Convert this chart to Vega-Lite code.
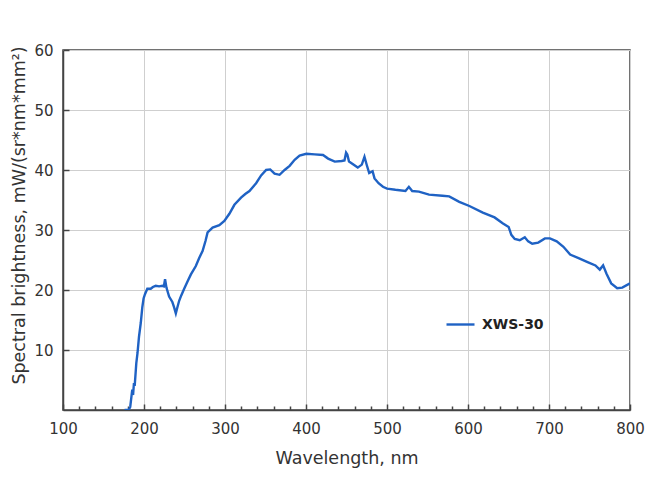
{
  "$schema": "https://vega.github.io/schema/vega-lite/v6.json",
  "autosize": "none",
  "padding": {"left": 63, "top": 50, "right": 20, "bottom": 81},
  "width": 567,
  "height": 360,
  "background": "white",
  "data": {
    "values": [
      {"wl": 176, "sb": 0}, {"wl": 181, "sb": 0}, {"wl": 183, "sb": 0.5},
      {"wl": 185.5, "sb": 3.4}, {"wl": 186.5, "sb": 2.5}, {"wl": 187.6, "sb": 4.5},
      {"wl": 188.5, "sb": 4}, {"wl": 190.5, "sb": 7.8}, {"wl": 192, "sb": 9.5},
      {"wl": 193.8, "sb": 12.2}, {"wl": 196, "sb": 14.5}, {"wl": 197.9, "sb": 17.1},
      {"wl": 199.5, "sb": 18.6}, {"wl": 201.2, "sb": 19.3}, {"wl": 204.1, "sb": 20.2},
      {"wl": 208.3, "sb": 20.2}, {"wl": 211, "sb": 20.5}, {"wl": 214.5, "sb": 20.7},
      {"wl": 218.6, "sb": 20.6}, {"wl": 222.7, "sb": 20.7}, {"wl": 224.5, "sb": 20.6},
      {"wl": 226, "sb": 21.8}, {"wl": 227.7, "sb": 20.4}, {"wl": 231, "sb": 18.9},
      {"wl": 235, "sb": 18}, {"wl": 237, "sb": 17.2}, {"wl": 239.3, "sb": 16.1},
      {"wl": 241, "sb": 17}, {"wl": 243.4, "sb": 18.2}, {"wl": 246, "sb": 19.1},
      {"wl": 249.6, "sb": 20.2}, {"wl": 254, "sb": 21.5}, {"wl": 257.9, "sb": 22.6},
      {"wl": 264, "sb": 24}, {"wl": 268, "sb": 25.3}, {"wl": 272.3, "sb": 26.5},
      {"wl": 276, "sb": 28.2}, {"wl": 278.5, "sb": 29.6}, {"wl": 284.7, "sb": 30.4},
      {"wl": 293, "sb": 30.8}, {"wl": 299.2, "sb": 31.5}, {"wl": 305.4, "sb": 32.7},
      {"wl": 311.6, "sb": 34.2}, {"wl": 319.8, "sb": 35.4}, {"wl": 325, "sb": 36},
      {"wl": 330.2, "sb": 36.5}, {"wl": 338.4, "sb": 37.8}, {"wl": 344.6, "sb": 39.1},
      {"wl": 350.8, "sb": 40}, {"wl": 355.8, "sb": 40.1}, {"wl": 361.2, "sb": 39.4},
      {"wl": 367.4, "sb": 39.2}, {"wl": 373.6, "sb": 40}, {"wl": 379.8, "sb": 40.7},
      {"wl": 386, "sb": 41.7}, {"wl": 392.1, "sb": 42.4}, {"wl": 400.4, "sb": 42.7},
      {"wl": 410.7, "sb": 42.6}, {"wl": 421, "sb": 42.5}, {"wl": 427.3, "sb": 41.9},
      {"wl": 435.5, "sb": 41.4}, {"wl": 444, "sb": 41.5}, {"wl": 447.5, "sb": 41.6},
      {"wl": 449.5, "sb": 42.9}, {"wl": 451, "sb": 42.6}, {"wl": 453.1, "sb": 41.4},
      {"wl": 458.5, "sb": 40.9}, {"wl": 463.9, "sb": 40.4}, {"wl": 468.9, "sb": 40.9},
      {"wl": 472.2, "sb": 42.2}, {"wl": 475.1, "sb": 40.8}, {"wl": 478, "sb": 39.5},
      {"wl": 482.2, "sb": 39.8}, {"wl": 484.6, "sb": 38.6}, {"wl": 489.6, "sb": 37.8},
      {"wl": 495, "sb": 37.2}, {"wl": 500, "sb": 36.9}, {"wl": 510.4, "sb": 36.7},
      {"wl": 522.8, "sb": 36.5}, {"wl": 527, "sb": 37.2}, {"wl": 531.1, "sb": 36.5},
      {"wl": 539.4, "sb": 36.4}, {"wl": 551.9, "sb": 35.9}, {"wl": 568.5, "sb": 35.7},
      {"wl": 576.8, "sb": 35.6}, {"wl": 589.2, "sb": 34.7}, {"wl": 601.7, "sb": 34},
      {"wl": 618.3, "sb": 32.9}, {"wl": 632.8, "sb": 32.1}, {"wl": 643.2, "sb": 31.1},
      {"wl": 650.2, "sb": 30.5}, {"wl": 653.5, "sb": 29.2}, {"wl": 657.7, "sb": 28.5},
      {"wl": 663.9, "sb": 28.3}, {"wl": 670.1, "sb": 28.8}, {"wl": 674.3, "sb": 28.1},
      {"wl": 679.3, "sb": 27.7}, {"wl": 686.7, "sb": 27.9}, {"wl": 695, "sb": 28.6},
      {"wl": 701.2, "sb": 28.6}, {"wl": 709.5, "sb": 28.1}, {"wl": 717.8, "sb": 27.2},
      {"wl": 726.1, "sb": 25.9}, {"wl": 736.5, "sb": 25.3}, {"wl": 746.9, "sb": 24.7},
      {"wl": 757.3, "sb": 24.1}, {"wl": 762.7, "sb": 23.4}, {"wl": 766.8, "sb": 24.1},
      {"wl": 771, "sb": 22.7}, {"wl": 776.8, "sb": 21.1}, {"wl": 784.2, "sb": 20.3},
      {"wl": 790.5, "sb": 20.4}, {"wl": 800, "sb": 21.1}
    ]
  },
  "encoding": {
    "y": {
      "field": "sb",
      "type": "quantitative",
      "scale": {"domain": [0, 60], "nice": false},
      "title": "Spectral brightness, mW/(sr*nm*mm²)",
      "axis": {
        "values": [10, 20, 30, 40, 50, 60],
        "tickSize": -6,
        "labelPadding": 16,
        "labelFlush": false,
        "titlePadding": 5,
        "titleY": 165
      }
    }
  },
  "layer": [
    {
      "mark": {"type": "line", "strokeWidth": 2.4, "clip": true},
      "encoding": {
        "x": {
          "field": "wl",
          "type": "quantitative",
          "scale": {"domain": [100, 800], "nice": false},
          "title": "Wavelength, nm",
          "axis": {
            "orient": "bottom",
            "values": [100, 200, 300, 400, 500, 600, 700, 800],
            "tickSize": -6,
            "labelPadding": 17,
            "labelFlush": false,
            "titlePadding": 13
          }
        },
        "color": {
          "datum": "XWS-30",
          "scale": {"range": ["#1f62c4"]},
          "legend": {
            "orient": "none",
            "legendX": 382,
            "legendY": 259,
            "title": null,
            "symbolType": "stroke",
            "symbolSize": 784,
            "symbolStrokeWidth": 2.4,
            "labelFontWeight": "bold",
            "labelFontSize": 14,
            "labelOffset": 6,
            "labelColor": "#222"
          }
        }
      }
    },
    {
      "mark": {"type": "line", "opacity": 0},
      "encoding": {
        "x": {
          "field": "wl",
          "type": "quantitative",
          "axis": {
            "orient": "bottom",
            "values": [120, 140, 160, 180, 220, 240, 260, 280, 320, 340, 360, 380, 420, 440, 460, 480, 520, 540, 560, 580, 620, 640, 660, 680, 720, 740, 760, 780],
            "tickSize": -4,
            "labels": false,
            "grid": false,
            "domain": false,
            "title": null
          }
        }
      }
    }
  ],
  "resolve": {"axis": {"x": "independent"}},
  "config": {
    "font": "DejaVu Sans",
    "view": {"stroke": "#444", "strokeWidth": 1.5},
    "axis": {
      "labelFontSize": 15,
      "labelColor": "#333",
      "titleFontSize": 17.5,
      "titleFontWeight": "normal",
      "titleColor": "#333",
      "domainColor": "#444",
      "domainWidth": 1.5,
      "tickColor": "#444",
      "tickWidth": 1.5,
      "gridColor": "#cfcfcf",
      "gridWidth": 1
    }
  }
}
